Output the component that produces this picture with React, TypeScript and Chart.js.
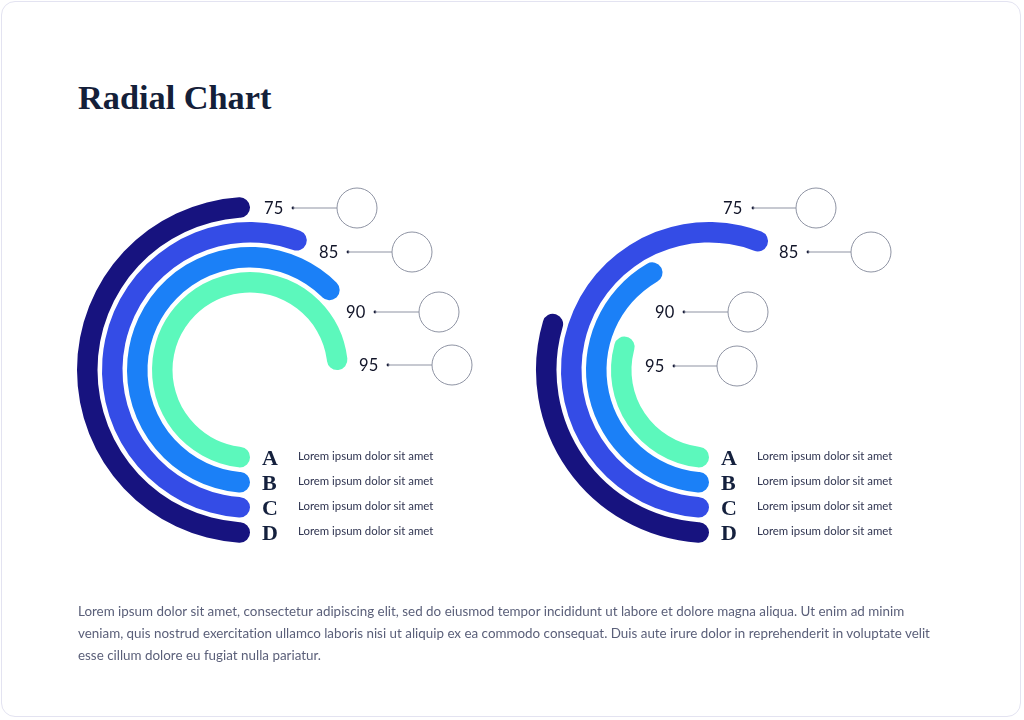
import React, { useEffect, useRef } from "react";
import { Chart, registerables } from "chart.js";

Chart.register(...registerables);

// ---- data ----
const categories = ["A", "B", "C", "D"];
const descriptions = [
  "Lorem ipsum dolor sit amet",
  "Lorem ipsum dolor sit amet",
  "Lorem ipsum dolor sit amet",
  "Lorem ipsum dolor sit amet",
];
const valueLabels = ["75", "85", "90", "95"];
// arc sweep (degrees) for A, B, C, D
const leftSweep = [270, 230, 204, 180];
const rightSweep = [112, 155, 205, 110];
const seriesColors = ["#5cf8bc", "#1b80f7", "#344ce6", "#17137f"];

const paragraphLines = [
  "Lorem ipsum dolor sit amet, consectetur adipiscing elit, sed do eiusmod tempor incididunt ut labore et dolore magna aliqua. Ut enim ad minim",
  "veniam, quis nostrud exercitation ullamco laboris nisi ut aliquip ex ea commodo consequat. Duis aute irure dolor in reprehenderit in voluptate velit",
  "esse cillum dolore eu fugiat nulla pariatur.",
];

// ---- layout ----
const CANVAS = 360;
const OUTER_R = 173;
const RING = 20.5;
const GAP = 4.5;
const INNER_R = OUTER_R - 4 * RING - 3 * GAP;

type LabelPos = { tx: number; y: number; dot: number; cx: number };
const leftLabelPos: LabelPos[] = [
  { tx: 264, y: 208, dot: 293, cx: 357 },
  { tx: 319, y: 252, dot: 348, cx: 412 },
  { tx: 346, y: 312, dot: 375, cx: 439 },
  { tx: 359, y: 365, dot: 388, cx: 452 },
];
const rightLabelPos: LabelPos[] = [
  { tx: 723, y: 208, dot: 753, cx: 816 },
  { tx: 779, y: 252, dot: 808, cx: 871 },
  { tx: 655, y: 312, dot: 684, cx: 748 },
  { tx: 645, y: 366, dot: 674, cx: 737 },
];

function RadialRings({ sweep, cx, cy }: { sweep: number[]; cx: number; cy: number }) {
  const ref = useRef<HTMLCanvasElement | null>(null);
  useEffect(() => {
    if (!ref.current) return;
    const datasets: any[] = [];
    // outermost first: D, C, B, A
    for (let k = 3; k >= 0; k--) {
      datasets.push({
        data: [sweep[k], 360 - sweep[k]],
        backgroundColor: [seriesColors[k], "rgba(0,0,0,0)"],
        borderWidth: 0,
        borderRadius: RING / 2,
        weight: RING,
      });
      if (k > 0) {
        datasets.push({
          data: [1],
          backgroundColor: ["rgba(0,0,0,0)"],
          borderWidth: 0,
          weight: GAP,
        });
      }
    }
    const chart = new Chart(ref.current, {
      type: "doughnut",
      data: { labels: ["value", "rest"], datasets },
      options: {
        responsive: false,
        animation: false,
        rotation: 180,
        circumference: 360,
        radius: OUTER_R,
        cutout: (INNER_R / OUTER_R) * 100 + "%",
        events: [],
        plugins: { legend: { display: false }, tooltip: { enabled: false } },
        layout: { padding: 0 },
      },
    });
    return () => chart.destroy();
  }, [sweep]);
  return (
    <canvas
      ref={ref}
      width={CANVAS}
      height={CANVAS}
      style={{ position: "absolute", left: cx - CANVAS / 2, top: cy - CANVAS / 2, width: CANVAS, height: CANVAS }}
    />
  );
}

function Annotations({ pos, legendX, descX }: { pos: LabelPos[]; legendX: number; descX: number }) {
  const rowY = [458, 483, 508, 533];
  return (
    <>
      {pos.map((p, i) => (
        <div
          key={"v" + i}
          style={{
            position: "absolute",
            left: p.tx,
            top: p.y - 10,
            height: 20,
            lineHeight: "20px",
            fontFamily: "Lato, 'Noto Sans', sans-serif",
            fontSize: 16.5,
            color: "#111428",
            letterSpacing: 0.3,
          }}
        >
          {valueLabels[i]}
        </div>
      ))}
      {categories.map((c, i) => (
        <React.Fragment key={"c" + i}>
          <div
            style={{
              position: "absolute",
              left: legendX,
              top: rowY[i] - 13,
              height: 26,
              lineHeight: "26px",
              fontFamily: "'Liberation Serif', 'DejaVu Serif', serif",
              fontWeight: 700,
              fontSize: 22,
              color: "#14203d",
            }}
          >
            {c}
          </div>
          <div
            style={{
              position: "absolute",
              left: descX,
              top: rowY[i] - 2 - 9,
              height: 18,
              lineHeight: "18px",
              fontFamily: "Lato, 'Noto Sans', sans-serif",
              fontSize: 11.4,
              color: "#2f3450",
              whiteSpace: "nowrap",
            }}
          >
            {descriptions[i]}
          </div>
        </React.Fragment>
      ))}
    </>
  );
}

function Leaders({ pos }: { pos: LabelPos[] }) {
  return (
    <>
      {pos.map((p, i) => (
        <g key={i}>
          <circle cx={p.dot} cy={p.y} r={1.4} fill="#1b1f3b" />
          <line x1={p.dot} y1={p.y} x2={p.cx - 20} y2={p.y} stroke="#8e93a3" strokeWidth={1} />
          <circle cx={p.cx} cy={p.y} r={20} fill="#ffffff" stroke="#8e93a3" strokeWidth={1} />
        </g>
      ))}
    </>
  );
}

export default function App() {
  useEffect(() => {
    document.body.style.margin = "0";
  }, []);
  return (
    <div style={{ position: "fixed", left: 0, top: 0, width: 1024, height: 720, background: "#ffffff", overflow: "hidden" }}>
      <div
        style={{
          position: "absolute",
          left: 1,
          top: 1,
          width: 1020,
          height: 716,
          border: "1px solid #e3e3f1",
          borderRadius: 14,
          boxSizing: "border-box",
        }}
      />
      <div
        style={{
          position: "absolute",
          left: 78,
          top: 77,
          fontFamily: "'Liberation Serif', 'DejaVu Serif', serif",
          fontWeight: 700,
          fontSize: 34.3,
          lineHeight: "40px",
          color: "#142039",
          whiteSpace: "nowrap",
        }}
      >
        Radial Chart
      </div>

      <RadialRings sweep={leftSweep} cx={250} cy={370} />
      <RadialRings sweep={rightSweep} cx={709} cy={370} />

      <svg width={1024} height={720} style={{ position: "absolute", left: 0, top: 0 }}>
        <Leaders pos={leftLabelPos} />
        <Leaders pos={rightLabelPos} />
      </svg>

      <Annotations pos={leftLabelPos} legendX={262} descX={298} />
      <Annotations pos={rightLabelPos} legendX={721} descX={757} />

      <div
        style={{
          position: "absolute",
          left: 78,
          top: 600,
          fontFamily: "Lato, 'Noto Sans', sans-serif",
          fontSize: 13.4,
          lineHeight: "22px",
          color: "#5a5f79",
          whiteSpace: "nowrap",
          fontVariantLigatures: "none",
        }}
      >
        {paragraphLines.map((l, i) => (
          <div key={i}>{l}</div>
        ))}
      </div>
    </div>
  );
}
